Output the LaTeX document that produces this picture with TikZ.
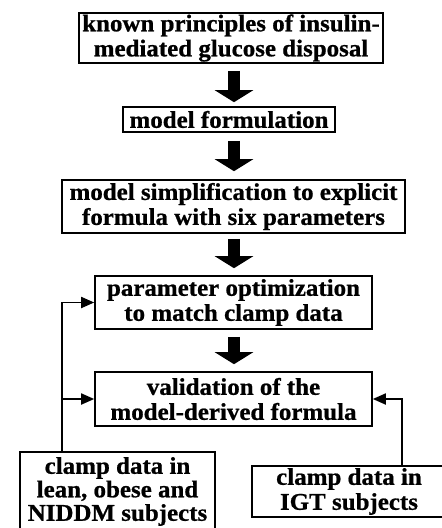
\documentclass[tikz,border=0pt]{standalone}
\usepackage{fontspec}
\setmainfont{Liberation Serif}[BoldFeatures={FakeStretch=1.04,FakeBold=0.8}]
\usetikzlibrary{arrows.meta,calc}
\begin{document}
\begin{tikzpicture}[x=1pt,y=-1pt,
  box/.style={draw, line width=1.6pt, inner sep=0pt, align=center,
    font=\fontsize{24}{25}\selectfont\bfseries},
  boxs/.style={box, font=\fontsize{24}{23.5}\selectfont\bfseries},
  bigarrow/.style={line width=12pt, -{Triangle[width=38pt,length=12pt]}},
  conn/.style={line width=1.8pt, line join=miter, -{Triangle[width=11pt,length=13pt]}}]
\useasboundingbox (0,0) rectangle (442,528);
\node[box, minimum width=304pt, minimum height=50pt] (b1) at (231,38) {known principles of insulin-\\mediated glucose disposal};
\node[box, minimum width=212pt, minimum height=25pt] (b2) at (229,119.5) {model formulation};
\node[box, minimum width=343pt, minimum height=53pt] (b3) at (233.5,206.5) {model simplification to explicit\\formula with six parameters};
\node[box, minimum width=277pt, minimum height=53pt] (b4) at (233.5,302.5) {parameter optimization\\to match clamp data};
\node[box, minimum width=277pt, minimum height=54pt] (b5) at (233.5,399) {validation of the\\model-derived formula};
\node[boxs, minimum width=195pt, minimum height=79pt] (b6) at (117.5,491.5) {clamp data in\\lean, obese and\\NIDDM subjects};
\node[box, minimum width=194pt, minimum height=51pt] (b7) at (349,491.5) {clamp data in\\IGT subjects};
\coordinate (ax) at (234,0);
\draw[bigarrow] ($(b1.south -| ax)+(0,7)$) -- ($(b2.north -| ax)+(0,-4)$);
\draw[bigarrow] ($(b2.south -| ax)+(0,8)$) -- ($(b3.north -| ax)+(0,-8)$);
\draw[bigarrow] ($(b3.south -| ax)+(0,5)$) -- ($(b4.north -| ax)+(0,-7)$);
\draw[bigarrow] ($(b4.south -| ax)+(0,7)$) -- ($(b5.north -| ax)+(0,-7)$);
\coordinate (lj) at (62,452);
\draw[conn] (lj) |- (b4.west);
\draw[conn] (lj |- b5.west) -- (b5.west);
\coordinate (rj) at (402,466);
\draw[conn] (rj) |- (b5.east);
\end{tikzpicture}
\end{document}
